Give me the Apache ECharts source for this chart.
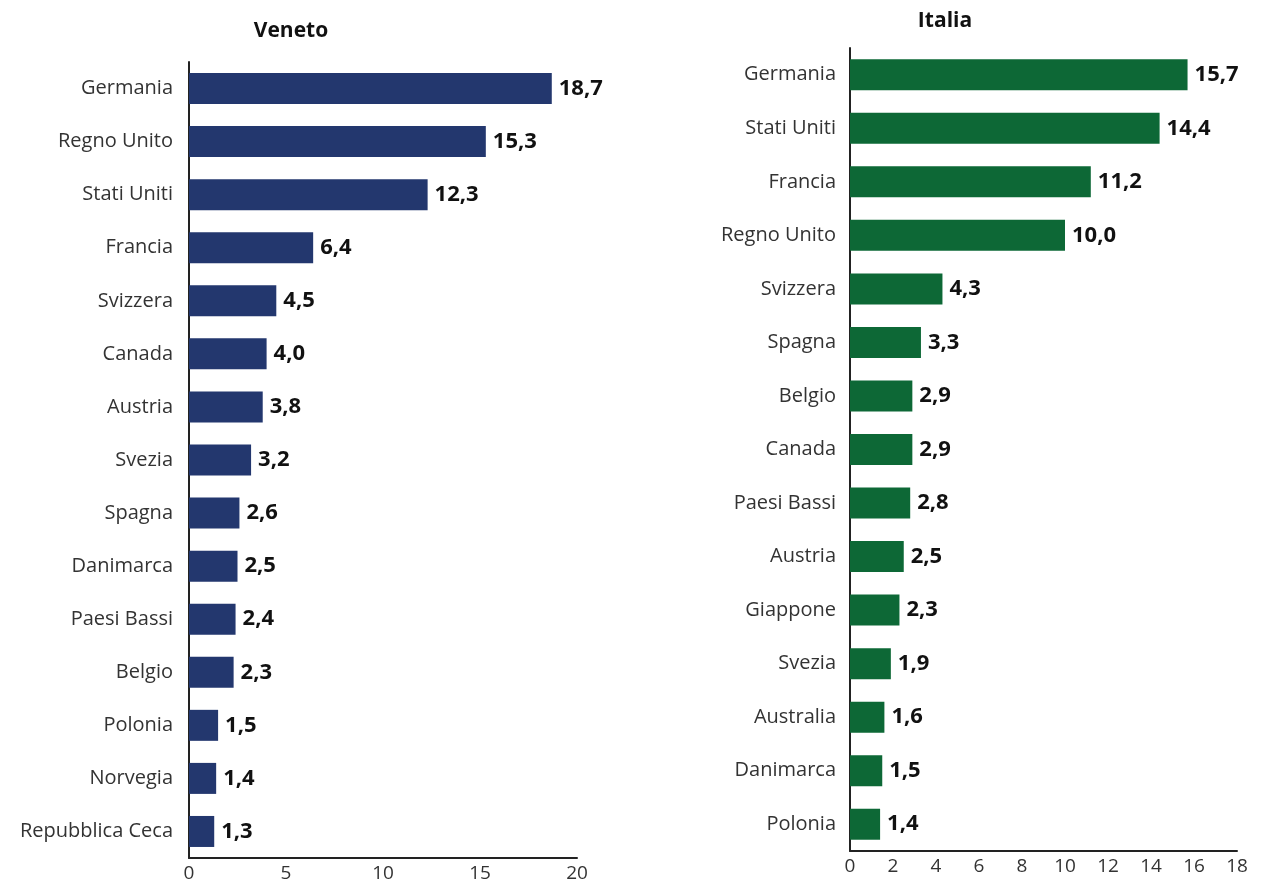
<!DOCTYPE html>
<html><head><meta charset="utf-8">
<script src="https://cdn.jsdelivr.net/npm/echarts@6/dist/echarts.min.js"></script>
<style>html,body{margin:0;padding:0;background:#fff}#c{width:1271px;height:887px}</style>
</head><body><div id="c"></div>
<script>
const venetoCats = ['Germania','Regno Unito','Stati Uniti','Francia','Svizzera','Canada','Austria','Svezia','Spagna','Danimarca','Paesi Bassi','Belgio','Polonia','Norvegia','Repubblica Ceca'];
const venetoVals = [18.7,15.3,12.3,6.4,4.5,4.0,3.8,3.2,2.6,2.5,2.4,2.3,1.5,1.4,1.3];
const italiaCats = ['Germania','Stati Uniti','Francia','Regno Unito','Svizzera','Spagna','Belgio','Canada','Paesi Bassi','Austria','Giappone','Svezia','Australia','Danimarca','Polonia'];
const italiaVals = [15.7,14.4,11.2,10.0,4.3,3.3,2.9,2.9,2.8,2.5,2.3,1.9,1.6,1.5,1.4];
const titles = ['Veneto','Italia'];

const font = '"Open Sans", "Noto Sans", sans-serif';
const chart = echarts.init(document.getElementById('c'));
const axisLine = {show:true, lineStyle:{color:'#222', width:2}};
const fmt = p => p.value.toFixed(1).replace('.', ',');
const valLabel = {show:true, position:'right', distance:7, formatter:fmt, fontFamily:font, fontWeight:'bold', fontSize:22, color:'#111'};
chart.setOption({
  animation:false,
  title:[
    {text:titles[0], left:286, top:16, textAlign:'center', textStyle:{fontFamily:font, fontWeight:'bold', fontSize:21, color:'#111'}},
    {text:titles[1], left:940, top:6, textAlign:'center', textStyle:{fontFamily:font, fontWeight:'bold', fontSize:21, color:'#111'}}
  ],
  grid:[
    {left:189, top:62, width:388, height:796},
    {left:850, top:48, width:387, height:803}
  ],
  xAxis:[
    {gridIndex:0, type:'value', min:0, max:20, interval:5, axisLine, axisTick:{show:false}, splitLine:{show:false},
     axisLabel:{fontFamily:font, fontSize:19, color:'#333', margin:6}},
    {gridIndex:1, type:'value', min:0, max:18, interval:2, axisLine, axisTick:{show:false}, splitLine:{show:false},
     axisLabel:{fontFamily:font, fontSize:19, color:'#333', margin:6}}
  ],
  yAxis:[
    {gridIndex:0, type:'category', data:venetoCats, inverse:true, axisLine, axisTick:{show:false},
     axisLabel:{fontFamily:font, fontSize:20, color:'#333', margin:16}},
    {gridIndex:1, type:'category', data:italiaCats, inverse:true, axisLine, axisTick:{show:false},
     axisLabel:{fontFamily:font, fontSize:20, color:'#333', margin:14}}
  ],
  series:[
    {type:'bar', xAxisIndex:0, yAxisIndex:0, data:venetoVals, barWidth:31,
     itemStyle:{color:'#23376e'}, label:valLabel},
    {type:'bar', xAxisIndex:1, yAxisIndex:1, data:italiaVals, barWidth:31,
     itemStyle:{color:'#0d6836'}, label:valLabel}
  ]
});
</script></body></html>
